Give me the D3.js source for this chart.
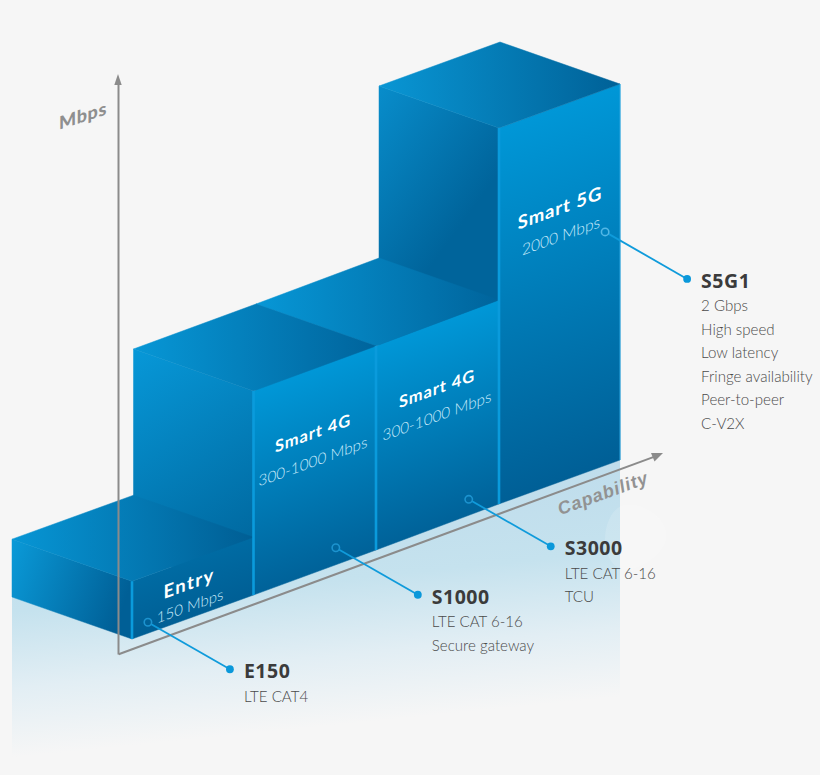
<!DOCTYPE html>
<html><head><meta charset="utf-8">
<script src="https://cdnjs.cloudflare.com/ajax/libs/d3/7.8.5/d3.min.js"></script>
<style>
html,body{margin:0;padding:0;background:#f6f6f6}
svg{display:block}
text{font-family:Lato,"Open Sans",sans-serif}
</style></head><body>
<svg id="c" width="820" height="775"></svg>
<script>
// ---- data ----
const categories = ["Entry","Smart 4G","Smart 4G","Smart 5G"];
const rangeLabels = ["150 Mbps","300-1000 Mbps","300-1000 Mbps","2000 Mbps"];
const mbps = [150,1000,1000,2000];
const models = ["E150","S1000","S3000","S5G1"];
const features = [
  ["LTE CAT4"],
  ["LTE CAT 6-16","Secure gateway"],
  ["LTE CAT 6-16","TCU"],
  ["2 Gbps","High speed","Low latency","Fringe availability","Peer-to-peer","C-V2X"]
];
const axisTitles = ["Mbps","Capability"];

// ---- layout ----
const svg = d3.select("#c");
const defs = svg.append("defs");
const W = 820, H = 775;
svg.append("rect").attr("width",W).attr("height",H).attr("fill","#f6f6f6");

// projection: capability runs up-right, depth runs up-left, height straight up
const capX = d3.scaleLinear().domain([0,1,2,3,4]).range([132,253.5,376,499,620]);
const capY = d3.scaleLinear().domain([0,1,2,3,4]).range([639,595,550,504,460]);
const depX = d3.scaleLinear().domain([0,1]).range([0,-120]);
const depY = d3.scaleLinear().domain([0,1]).range([0,-42]);
const rise = d3.scaleLinear().domain([0,2000]).range([32,376]);
const pt = (c,d,h) => [capX(c)+depX(d), capY(c)+depY(d)-h];
const line = d3.line();
const poly = p => line(p)+"Z";

function grad(id,a,b,stops){
  const g = defs.append("linearGradient").attr("id",id)
    .attr("gradientUnits","userSpaceOnUse")
    .attr("x1",a[0]).attr("y1",a[1]).attr("x2",b[0]).attr("y2",b[1]);
  g.selectAll("stop").data(stops).join("stop")
    .attr("offset",d=>d[0]).attr("stop-color",d=>d[1]);
  return `url(#${id})`;
}

// ground reflection
const groundFill = grad("ground",[320,445],[350,745],[
  [0,"#bcdaeb"],[0.45,"#c5e2ee"],[0.7,"#e2eef4"],[0.93,"#f6f6f6"]]);
svg.append("path").attr("fill",groundFill).attr("d",poly([
  pt(0,1,0),pt(0,0,0),pt(4,0,0),[capX(4),760],[capX(0)+depX(1),760]]));
svg.append("path").attr("fill","#ffffff").attr("opacity",0.14)
  .attr("d",d3.line().curve(d3.curveBasisClosed)([[615,500],[650,506],[675,535],[650,565],[615,575],[600,540]]));

// bars, drawn back to front
const idx = d3.range(categories.length).reverse();
const barsG = svg.append("g");
const shades = {
  left:[["#0a9ad8","#005f96"],["#0798d8","#00689f"],["#0798d8","#00689f"],["#088dcb","#00649b"]],
  top:[["#0796d5","#005e94"],["#0797d6","#00649c"],["#0797d6","#00649c"],["#0996d4","#006197"]],
  front:[["#006ba3","#005f95"],["#0097d7","#006299"],["#0097d7","#006299"],["#0097d7","#005f96"]]
};
const leftSlant = [0,0.75,0.75,0.12];
const bars = barsG.selectAll("g.bar").data(idx).join("g").attr("class","bar");
bars.each(function(i){
  const g = d3.select(this), h = rise(mbps[i]);
  const lt = pt(i,1,h), ft = pt(i,0,h), rt = pt(i+1,0,h), bt = pt(i+1,1,h);
  const lb = pt(i,1,0), fb = pt(i,0,0), rb = pt(i+1,0,0);
  const fmid = pt(i+0.5,0,h), L = h*0.94;
  const lf = grad("l"+i,lt,[ft[0],ft[1]+leftSlant[i]*h],[[0,shades.left[i][0]],[1,shades.left[i][1]]]);
  const tf = grad("t"+i,[lt[0],0],[rt[0],0],[[0,shades.top[i][0]],[1,shades.top[i][1]]]);
  const ff = grad("f"+i,fmid,[fmid[0]+L*0.344,fmid[1]+L*0.94],[[0,shades.front[i][0]],[1,shades.front[i][1]]]);
  const face = (pts,fill)=>g.append("path").attr("d",poly(pts)).attr("fill",fill).attr("stroke",fill).attr("stroke-width",0.5);
  face([lt,ft,fb,lb],lf);
  face([ft,rt,rb,fb],ff);
  face([lt,bt,rt,ft],tf);
});
// bright vertical edges sit above every face
const edges = svg.append("g").attr("fill","none");
edges.selectAll("path").data(d3.range(4)).join("path")
  .attr("d",i=>{const h=rise(mbps[i]);return line([pt(i,0,h),pt(i,0,0)]);})
  .attr("stroke","#0a9bdc").attr("stroke-width",2.6);
edges.append("path").attr("d",line([pt(4,0,rise(mbps[3])),pt(4,0,0)]))
  .attr("stroke","#2aa5df").attr("stroke-width",1);

// axes
const axisColor = "#8b8b8b";
const yAxisScale = d3.scaleLinear().domain([rise.invert(0),rise.invert(572)]).range([654,82]);
const yAxis = svg.append("g").attr("transform","translate(118,0)")
  .call(d3.axisLeft(yAxisScale).tickValues([]).tickSize(0));
yAxis.select(".domain").attr("stroke",axisColor).attr("stroke-width",2);
svg.append("path").attr("fill",axisColor).attr("d",poly([[118,74],[114.3,85],[121.7,85]]));

const xAxisScale = d3.scaleLinear().domain([-1,4.35]).range([0,572]);
const xAxis = svg.append("g").attr("transform","translate(118,654) rotate(-20.25)")
  .call(d3.axisBottom(xAxisScale).tickValues([]).tickSize(0));
xAxis.select(".domain").attr("stroke",axisColor).attr("stroke-width",2);
svg.append("path").attr("fill",axisColor).attr("d",poly([[663,453],[651,453],[654.5,461.5]]));

svg.append("text").text(axisTitles[0]).attr("transform","translate(83,122) skewY(-18)")
  .attr("text-anchor","middle").attr("font-size",18).attr("font-weight",900).attr("fill","#8f8f8f").attr("letter-spacing",0.6);
svg.append("text").text(axisTitles[1]).attr("transform","translate(605,499) rotate(-20)")
  .attr("text-anchor","middle").attr("font-size",18).attr("font-weight",700).attr("font-style","italic")
  .attr("fill","#929292").attr("letter-spacing",0.9).style("font-family","'Liberation Sans'");

// labels on the bars
const titleRise = [34.5,140,139,275];
const rangeRise = [11.5,112,112,247];
const titleNudge = [-3.7,-1.7,-0.5,0.5];
const rangeNudge = [-2.7,-1.7,-0.5,1.5];
const titleSize = [18.5,16.5,16.5,18.5];
const rangeSize = [15,15.3,15.3,15.6];
const labels = svg.append("g").selectAll("g").data(d3.range(4)).join("g");
labels.append("text").text(i=>categories[i])
  .attr("transform",i=>{const p=pt(i+0.5,0,titleRise[i]);return `translate(${p[0]+titleNudge[i]},${p[1]}) skewY(-20)`;})
  .attr("text-anchor","middle").attr("dominant-baseline","central")
  .attr("font-size",i=>titleSize[i]).attr("font-weight",700).attr("fill","#fff").attr("letter-spacing",i=>i===0?1.4:0.9);
labels.append("text").text(i=>rangeLabels[i])
  .attr("transform",i=>{const p=pt(i+0.5,0,rangeRise[i]);return `translate(${p[0]+rangeNudge[i]},${p[1]}) skewY(-20)`;})
  .attr("text-anchor","middle").attr("dominant-baseline","central")
  .attr("font-size",i=>rangeSize[i]).attr("font-weight",300).attr("fill","#c9eafa");

// callouts
const ringCap = [0.131,1.672,2.754,3.877];
const ringRise = [11,17,16,233.5];
const blue = "#0f9bdb";
const callouts = svg.append("g").selectAll("g").data(d3.range(4)).join("g")
  .attr("transform",i=>`translate(${pt(ringCap[i],0,ringRise[i])})`);
callouts.append("line").attr("x1",3).attr("y1",1.7).attr("x2",82).attr("y2",47)
  .attr("stroke",blue).attr("stroke-width",1.8);
callouts.append("circle").attr("r",3.7).attr("fill","none").attr("stroke",i=>i===3?"#52b7e6":"#1c93cf").attr("stroke-width",1.6);
callouts.append("circle").attr("cx",82).attr("cy",47).attr("r",3.9).attr("fill","#0a98da");
callouts.append("text").text(i=>models[i]).attr("x",96).attr("y",56)
  .attr("font-size",19.5).attr("font-weight",700).attr("fill","#3b3b3b").attr("letter-spacing",0.5)
  .style("font-family","'Noto Sans',Lato");
callouts.each(function(i){
  d3.select(this).selectAll("text.f").data(features[i]).join("text").attr("class","f").text(d=>d)
    .attr("x",96).attr("y",(d,k)=>79.5+k*23.5)
    .attr("font-size",15.1).attr("font-weight",300).attr("fill","#4a4a4a");
});
</script>
</body></html>
